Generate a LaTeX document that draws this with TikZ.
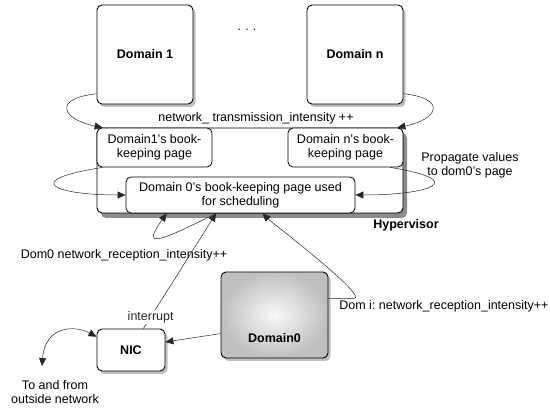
\documentclass[tikz,border=0pt]{standalone}
\usepackage{fontspec}
\setmainfont{Liberation Sans}
\usetikzlibrary{arrows.meta, shadows, positioning}

\begin{document}
\frenchspacing
\fontsize{12.5}{14}\selectfont
\begin{tikzpicture}[x=1pt, y=-1pt,
	dombox/.style={draw, line width=.9pt, rounded corners=5pt, fill=white, font=\bfseries,
		drop shadow={shadow xshift=2.5pt, shadow yshift=-3pt, opacity=.5}},
	hypbox/.style={draw, line width=.9pt, rounded corners=5pt, fill=white,
		drop shadow={shadow xshift=4pt, shadow yshift=-5pt, opacity=.9}},
	pagebox/.style={draw, line width=.8pt, rounded corners=5pt, fill=white, align=center, inner sep=1pt},
	conn/.style={draw, line width=.5pt, black!85, -{Triangle[length=8pt,width=7pt]}},
	]
	\useasboundingbox (0,0) rectangle (550,409);
	\node[hypbox, minimum width=306pt, minimum height=85pt] (hyp) at (250,170.5) {};
	\node[dombox, minimum width=96pt, minimum height=99pt] (dom1) at (145,54.5) {Domain 1};
	\node[dombox, minimum width=96pt, minimum height=99pt] (domn) at (355,54.5) {Domain n};
	\node (dots) at (247,30) {.\,\,.\,\,.};
	\node[pagebox, minimum width=115pt, minimum height=39pt] (bk1) at (154.5,147.5) {Domain1's book-\\keeping page};
	\node[pagebox, minimum width=115pt, minimum height=39pt] (bkn) at (345.5,147.5) {Domain n's book-\\keeping page};
	\node[pagebox, minimum width=229pt, minimum height=36pt] (bk0) at (240.5,195) {Domain 0's book-keeping page used\\for scheduling};
	\node (trans) at (256,118) {network\_ transmission\_intensity ++};
	\node[align=center] (prop) at (470,165) {Propagate values\\to dom0's page};
	\node[font=\bfseries] (hyplbl) at (406,225) {Hypervisor};
	\node (recv0) at (124,255) {Dom0 network\_reception\_intensity++};
	\node[dombox, shading=radial, inner color=gray!5, outer color=gray!50, minimum width=107pt, minimum height=86pt] (d0) at (274.5,315) {};
	\node[font=\bfseries, above=11pt of d0.south] (d0name) {Domain0};
	\node[anchor=west] (recvi) at (335,306) {Dom i: network\_reception\_intensity++};
	\node[dombox, minimum width=68pt, minimum height=42pt] (nic) at (131,350) {NIC};
	\node[align=center] (outside) at (55,392) {To and from\\outside network};
	\coordinate (net) at (42,366);

	\draw[conn] (dom1.219) .. controls +(-45,5) and +(-40,-8) .. (bk1.159);
	\draw[conn] (domn.321) .. controls +(45,5) and +(40,-8) .. (bkn.21);
	\draw[conn] (bk1.201) .. controls +(-83,13) and +(-71,0) .. (bk0.west);
	\draw[conn] (bkn.336) .. controls +(80,13) and +(75,0) .. (bk0.east);
	\draw[conn] (nic.60) -- node[pos=.1, fill=white, inner sep=1pt] (intlbl) {interrupt} (bk0.217);
	\draw[conn] (bk0.217) .. controls +(-60,30) and +(-25,35) .. (bk0.194);
	\draw[conn] (d0.17) -- +(25,0) .. controls +(18,0) and +(8,8) .. (bk0.320);
	\draw[conn] (d0.199) -- (nic.13);
	\draw[conn, {Triangle[length=8pt,width=7pt]}-{Triangle[length=8pt,width=7pt]}] (net) .. controls +(3,-40) and +(-22,-12) .. (nic.159);
\end{tikzpicture}
\end{document}
